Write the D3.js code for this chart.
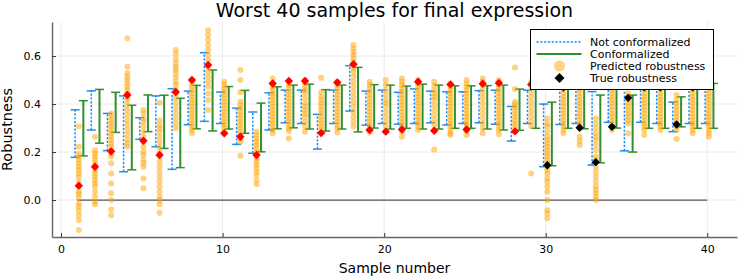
<!DOCTYPE html>
<html>
<head>
<meta charset="utf-8">
<script src="https://cdn.jsdelivr.net/npm/d3@7"></script>
<style>
  body { margin: 0; background: #fff; }
  text { font-family: "DejaVu Sans", sans-serif; }
</style>
</head>
<body>
<div id="chart"></div>
<script>
// data
const samples = [1,2,3,4,5,6,7,8,9,10,11,12,13,14,15,16,17,18,19,20,21,22,23,24,25,26,27,28,29,30,31,32,33,34,35,36,37,38,39,40];

// not conformalized interval
const blueLo = [0.178,0.292,0.206,0.118,0.253,0.222,0.128,0.314,0.328,0.319, 0.232,0.195,0.292,0.322,0.319,0.2125,0.319,0.371,0.312,0.319, 0.316,0.319,0.322,0.313,0.319,0.322,0.316,0.246,0.319,0.139, 0.315,0.319,0.146,0.324,0.205,0.324,0.319,0.285,0.319,0.319];
const blueHi = [0.376,0.455,0.361,0.434,0.343,0.434,0.464,0.454,0.614,0.450, 0.383,0.367,0.447,0.458,0.458,0.357,0.458,0.560,0.454,0.458, 0.449,0.463,0.454,0.451,0.451,0.456,0.458,0.390,0.458,0.400, 0.465,0.470,0.452,0.470,0.470,0.470,0.470,0.408,0.470,0.470];

// conformalized interval
const greenLo = [0.184,0.237,0.282,0.126,0.285,0.215,0.135,0.297,0.288,0.296, 0.278,0.201,0.297,0.301,0.296,0.2875,0.296,0.284,0.300,0.296, 0.299,0.296,0.296,0.299,0.299,0.296,0.292,0.291,0.299,0.143, 0.299,0.297,0.155,0.300,0.200,0.299,0.299,0.305,0.299,0.299];
const greenHi = [0.414,0.461,0.449,0.395,0.438,0.437,0.424,0.478,0.542,0.473, 0.457,0.404,0.472,0.479,0.483,0.460,0.479,0.553,0.481,0.479, 0.475,0.483,0.479,0.476,0.476,0.477,0.479,0.4625,0.475,0.408, 0.480,0.480,0.4375,0.480,0.4375,0.480,0.480,0.430,0.480,0.486];

// true robustness
const trueVals = [0.060,0.139,0.203,0.4375,0.247,0.1875,0.450,0.500,0.5625,0.278, 0.264,0.1875,0.486,0.496,0.496,0.279,0.490,0.566,0.292,0.285, 0.294,0.493,0.289,0.482,0.294,0.485,0.488,0.286,0.482,0.145, 0.470,0.301,0.158,0.305,0.426,0.470,0.470,0.315,0.470,0.475];

// predicted robustness, one list per sample
const predicted = [
  [0.308,0.222,0.192,0.180,0.167,0.153,0.139,0.125,0.111,0.097,0.076,0.056,0.035,0.025,0.010,-0.014,-0.028,-0.044,-0.063,-0.083,-0.125],
  [0.264,0.208,0.194,0.181,0.167,0.153,0.139,0.125,0.111,0.097,0.083,0.069,0.056,0.035,0.014,-0.007,-0.017],
  [0.361,0.347,0.333,0.319,0.306,0.292,0.278,0.264,0.250,0.236,0.222,0.208,0.194,0.181,0.153,0.111,0.069,0.028,0.000,-0.039,-0.063],
  [0.674,0.556,0.528,0.514,0.500,0.486,0.472,0.458,0.444,0.431,0.417,0.396,0.375,0.354,0.333,0.313,0.292,0.271,0.250,0.236,0.222],
  [0.375,0.361,0.340,0.326,0.306,0.285,0.264,0.243,0.222,0.201,0.188,0.167,0.153,0.139,0.090,0.049],
  [0.405,0.333,0.313,0.299,0.285,0.264,0.243,0.222,0.201,0.181,0.160,0.139,0.118,0.097,0.076,0.056,0.035,0.014,0.000,-0.017,-0.053],
  [0.625,0.608,0.586,0.569,0.556,0.542,0.528,0.511,0.493,0.479,0.461,0.444,0.424,0.403,0.382,0.361,0.340,0.319,0.299],
  [0.500,0.486,0.472,0.458,0.444,0.431,0.417,0.403,0.389,0.375,0.361,0.347,0.333,0.319,0.306,0.292,0.278],
  [0.708,0.688,0.667,0.646,0.625,0.604,0.583,0.556,0.535,0.514,0.493,0.472,0.444,0.417,0.375],
  [0.493,0.479,0.465,0.451,0.438,0.424,0.410,0.396,0.382,0.368,0.354,0.340,0.326,0.313,0.299,0.285],
  [0.542,0.500,0.449,0.410,0.396,0.382,0.368,0.354,0.340,0.326,0.313,0.299,0.285,0.271,0.257,0.243,0.185],
  [0.285,0.271,0.257,0.243,0.229,0.215,0.201,0.188,0.174,0.160,0.146,0.132,0.118,0.104,0.083,0.066],
  [0.507,0.486,0.472,0.458,0.444,0.431,0.417,0.403,0.389,0.375,0.361,0.347,0.333,0.319,0.306,0.292,0.278],
  [0.493,0.479,0.465,0.451,0.438,0.424,0.410,0.396,0.382,0.368,0.354,0.340,0.326,0.313,0.299,0.288,0.257],
  [0.500,0.486,0.472,0.458,0.444,0.424,0.403,0.389,0.375,0.361,0.347,0.326,0.306,0.285],
  [0.510,0.449,0.431,0.417,0.403,0.389,0.375,0.361,0.347,0.333,0.319,0.306,0.292,0.282],
  [0.493,0.479,0.465,0.451,0.438,0.424,0.410,0.396,0.382,0.368,0.354,0.340,0.326,0.313,0.299,0.281],
  [0.646,0.632,0.618,0.604,0.590,0.576,0.563,0.549,0.535,0.514,0.493,0.472,0.451,0.431,0.410,0.389,0.368,0.347,0.326,0.306],
  [0.493,0.479,0.465,0.451,0.438,0.424,0.410,0.396,0.382,0.368,0.354,0.340,0.326,0.313,0.299,0.282],
  [0.500,0.479,0.458,0.438,0.417,0.403,0.389,0.368,0.347,0.326,0.306,0.288],
  [0.507,0.493,0.479,0.465,0.451,0.438,0.424,0.410,0.396,0.382,0.368,0.354,0.340,0.326,0.313,0.299,0.285,0.264],
  [0.500,0.486,0.472,0.458,0.444,0.431,0.417,0.403,0.389,0.375,0.361,0.347,0.333,0.319,0.306,0.292],
  [0.493,0.476,0.458,0.444,0.431,0.417,0.396,0.375,0.354,0.333,0.313,0.292,0.211],
  [0.486,0.472,0.458,0.444,0.431,0.417,0.403,0.389,0.375,0.361,0.347,0.333,0.319,0.306,0.292,0.278,0.271],
  [0.500,0.486,0.472,0.458,0.444,0.431,0.417,0.403,0.389,0.375,0.361,0.347,0.333,0.319,0.306,0.288,0.271],
  [0.507,0.493,0.479,0.463,0.444,0.424,0.403,0.382,0.361,0.340,0.319,0.299,0.278],
  [0.500,0.486,0.472,0.458,0.444,0.431,0.417,0.403,0.389,0.375,0.361,0.347,0.333,0.319,0.306,0.292,0.274],
  [0.552,0.463,0.410,0.399,0.388,0.375,0.361,0.347,0.333,0.319,0.306,0.292],
  [0.493,0.472,0.451,0.431,0.410,0.389,0.368,0.347,0.326,0.309,0.111],
  [0.340,0.319,0.306,0.285,0.264,0.250,0.236,0.222,0.208,0.194,0.181,0.167,0.153,0.139,0.125,0.111,0.090,0.076,0.056,0.035,0.000,-0.042,-0.056,-0.076],
  [0.490,0.475,0.460,0.445,0.431,0.417,0.403,0.389,0.375,0.361,0.347,0.333,0.319,0.306,0.292,0.278],
  [0.490,0.475,0.460,0.445,0.431,0.417,0.403,0.389,0.375,0.361,0.347,0.333,0.319,0.306,0.264,0.246,0.229],
  [0.340,0.319,0.299,0.278,0.264,0.250,0.229,0.208,0.181,0.167,0.139,0.118,0.097,0.076,0.056,0.042,0.028,0.014,0.000],
  [0.490,0.475,0.460,0.445,0.431,0.417,0.403,0.389,0.375,0.361,0.347,0.333,0.319,0.306,0.292],
  [0.445,0.431,0.417,0.403,0.389,0.375,0.361,0.347,0.333,0.319,0.278],
  [0.490,0.475,0.460,0.445,0.431,0.417,0.403,0.389,0.375,0.361,0.347,0.333,0.319,0.306,0.292,0.271],
  [0.490,0.475,0.460,0.445,0.431,0.417,0.403,0.389,0.375,0.361,0.347,0.333,0.319,0.306,0.292],
  [0.4375,0.417,0.403,0.389,0.375,0.361,0.347,0.333,0.319,0.306,0.292,0.254],
  [0.490,0.475,0.460,0.445,0.431,0.417,0.403,0.389,0.375,0.361,0.347,0.333,0.319,0.306,0.292,0.278],
  [0.490,0.475,0.460,0.445,0.431,0.417,0.403,0.389,0.375,0.361,0.347,0.333,0.319,0.306,0.292,0.278,0.264]
];

const xTicks = [0, 10, 20, 30, 40];
const yTicks = [0.0, 0.2, 0.4, 0.6];
const legendLabels = ["Not conformalized", "Conformalized", "Predicted robustness", "True robustness"];

// size
const width = 747;
const height = 280;
const plot = { left: 52, right: 737, top: 22, bottom: 237 };

const blueColor = "#1e8cf5";
const greenColor = "#2f8f2f";
const dotColor = "orange";

const svg = d3.select("#chart")
    .append("svg")
    .attr("width", width)
    .attr("height", height);

const x = d3.scaleLinear().domain([-0.56, 41.84]).range([plot.left, plot.right]);
const y = d3.scaleLinear().domain([-0.154, 0.742]).range([plot.bottom, plot.top]);

// each sample: blue bar left, dots in the middle, green bar right
const offBlue = -0.13, offDot = 0.1, offGreen = 0.38;
const capHalf = 4.5;

// grid
svg.append("g").selectAll("line")
    .data(xTicks)
    .enter().append("line")
    .attr("x1", d => x(d)).attr("x2", d => x(d))
    .attr("y1", plot.top).attr("y2", plot.bottom)
    .attr("stroke", "#ebebeb").attr("stroke-width", 1);

svg.append("g").selectAll("line")
    .data(yTicks)
    .enter().append("line")
    .attr("x1", plot.left).attr("x2", plot.right)
    .attr("y1", d => y(d)).attr("y2", d => y(d))
    .attr("stroke", "#ebebeb").attr("stroke-width", 1);

// zero line
svg.append("line")
    .attr("x1", x(samples[0])).attr("x2", x(samples[samples.length - 1]))
    .attr("y1", y(0)).attr("y2", y(0))
    .attr("stroke", "#555").attr("stroke-width", 1.3);

const rows = samples.map((s, i) => ({
    s,
    blo: blueLo[i], bhi: blueHi[i],
    glo: greenLo[i], ghi: greenHi[i],
    t: trueVals[i],
    preds: predicted[i]
}));

// error bars
function errorBars(key, lo, hi, off, color, dash, sw) {
    const g = svg.append("g").attr("class", key);
    const bars = g.selectAll("g").data(rows).enter().append("g");
    bars.append("line")
        .attr("x1", d => x(d.s + off)).attr("x2", d => x(d.s + off))
        .attr("y1", d => y(d[lo])).attr("y2", d => y(d[hi]))
        .attr("stroke", color).attr("stroke-width", sw)
        .attr("stroke-dasharray", dash);
    [lo, hi].forEach(k => {
        bars.append("line")
            .attr("x1", d => x(d.s + off) - capHalf).attr("x2", d => x(d.s + off) + capHalf)
            .attr("y1", d => y(d[k])).attr("y2", d => y(d[k]))
            .attr("stroke", color).attr("stroke-width", 1.5);
    });
}

errorBars("blue", "blo", "bhi", offBlue, blueColor, "2.2,1.6", 1.5);
errorBars("green", "glo", "ghi", offGreen, greenColor, null, 2);

// predicted points
const pts = rows.flatMap(d => d.preds.map(v => ({ s: d.s, v })));
svg.append("g").selectAll("circle")
    .data(pts)
    .enter().append("circle")
    .attr("cx", d => x(d.s + offDot))
    .attr("cy", d => y(d.v))
    .attr("r", 3)
    .attr("fill", dotColor)
    .attr("fill-opacity", 0.5);

// true robustness: red when outside the conformalized interval
const diamond = r => `M0,${-r}L${r},0L0,${r}L${-r},0Z`;
svg.append("g").selectAll("path")
    .data(rows)
    .enter().append("path")
    .attr("transform", d => `translate(${x(d.s + offDot)},${y(d.t)})`)
    .attr("d", diamond(4.2))
    .attr("fill", d => (d.t < d.glo || d.t > d.ghi) ? "red" : "black");

// axes
const xAxis = svg.append("g")
    .attr("transform", `translate(0,${plot.bottom})`)
    .call(d3.axisBottom(x).tickValues(xTicks).tickSizeInner(-4).tickSizeOuter(0).tickPadding(8));
const yAxis = svg.append("g")
    .attr("transform", `translate(${plot.left},0)`)
    .call(d3.axisLeft(y).tickValues(yTicks).tickFormat(d3.format(".1f")).tickSizeInner(-4).tickSizeOuter(0).tickPadding(11));

[xAxis, yAxis].forEach(a => {
    a.select(".domain").attr("stroke", "#666").attr("stroke-width", 1.4);
    a.selectAll(".tick line").attr("stroke", "#333");
    a.selectAll(".tick text")
        .attr("fill", "#000")
        .style("font-family", "DejaVu Sans")
        .style("font-size", "11px");
});

// labels
svg.append("text")
    .attr("x", (plot.left + plot.right) / 2)
    .attr("y", 17)
    .attr("text-anchor", "middle")
    .style("font-size", "19px")
    .text("Worst 40 samples for final expression");

svg.append("text")
    .attr("x", (plot.left + plot.right) / 2)
    .attr("y", 273)
    .attr("text-anchor", "middle")
    .style("font-size", "14px")
    .text("Sample number");

svg.append("text")
    .attr("transform", `translate(12,${(plot.top + plot.bottom) / 2}) rotate(-90)`)
    .attr("text-anchor", "middle")
    .style("font-size", "14.5px")
    .text("Robustness");

// legend
const lg = svg.append("g").attr("transform", "translate(530.5,29.5)");
lg.append("rect")
    .attr("width", 183).attr("height", 60)
    .attr("fill", "#fff").attr("stroke", "#000").attr("stroke-width", 1);

const rowY = i => 12.5 + i * 12;
lg.append("line")
    .attr("x1", 6).attr("x2", 51).attr("y1", rowY(0)).attr("y2", rowY(0))
    .attr("stroke", blueColor).attr("stroke-width", 1.5).attr("stroke-dasharray", "2.2,1.6");
lg.append("line")
    .attr("x1", 6).attr("x2", 51).attr("y1", rowY(1)).attr("y2", rowY(1))
    .attr("stroke", greenColor).attr("stroke-width", 2);
lg.append("circle")
    .attr("cx", 29).attr("cy", rowY(2)).attr("r", 5.5)
    .attr("fill", dotColor).attr("fill-opacity", 0.5);
lg.append("path")
    .attr("transform", `translate(29,${rowY(3)})`)
    .attr("d", diamond(5))
    .attr("fill", "black");

lg.selectAll(".lab")
    .data(legendLabels)
    .enter().append("text")
    .attr("class", "lab")
    .attr("x", 59.5)
    .attr("y", (d, i) => rowY(i))
    .attr("dy", "0.36em")
    .style("font-size", "11px")
    .text(d => d);
</script>
</body>
</html>
